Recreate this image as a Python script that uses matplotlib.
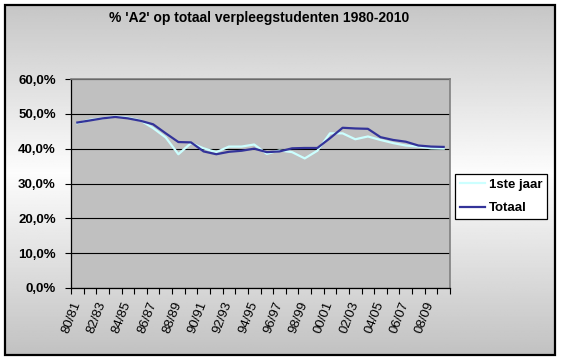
import numpy as np
import matplotlib
matplotlib.use("Agg")
import matplotlib.pyplot as plt
from matplotlib.patches import Rectangle
from matplotlib.ticker import FuncFormatter

# Data
years = ["80/81", "81/82", "82/83", "83/84", "84/85", "85/86", "86/87", "87/88",
         "88/89", "89/90", "90/91", "91/92", "92/93", "93/94", "94/95", "95/96",
         "96/97", "97/98", "98/99", "99/00", "00/01", "01/02", "02/03", "03/04",
         "04/05", "05/06", "06/07", "07/08", "08/09", "09/10"]
eerste_jaar = [47.3, 48.3, 48.7, 49.2, 48.9, 48.1, 45.9, 43.2, 38.4, 41.6,
               40.1, 39.0, 40.6, 40.6, 41.2, 38.5, 39.5, 39.0, 37.2, 39.4,
               44.4, 44.4, 42.7, 43.5, 42.5, 41.6, 40.9, 40.6, 40.1, 40.0]
totaal = [47.5, 48.1, 48.7, 49.1, 48.7, 48.0, 47.0, 44.4, 41.9, 41.8,
          39.2, 38.4, 39.1, 39.4, 40.0, 39.0, 39.2, 40.1, 40.2, 40.2,
          43.0, 46.0, 45.8, 45.7, 43.3, 42.5, 42.0, 40.9, 40.6, 40.5]

W, H = 561, 361
fig = plt.figure(figsize=(W / 100, H / 100), dpi=100)
fig.patch.set_facecolor("white")

# Background: vertical grey-white-grey gradient inside a black border
bg = fig.add_axes([0, 0, 1, 1], zorder=-10)
bg.set_xlim(0, W)
bg.set_ylim(H, 0)
bg.axis("off")
yy = np.linspace(0, 1, 200)
shade = 0.99 - 0.23 * np.abs(yy - 0.48) / 0.52
grad = np.repeat(shade[:, None], 2, axis=1)
bg.imshow(grad, cmap="gray", vmin=0, vmax=1, extent=[5, 555, 355, 5], aspect="auto")
bg.add_patch(Rectangle((5, 5), 550, 350, fill=False, edgecolor="black", linewidth=1.6))

ax = fig.add_axes([71 / W, 1 - 288 / H, (450 - 71) / W, (288 - 79) / H])
ax.set_facecolor("#C0C0C0")

x = np.arange(len(years))
ax.plot(x, eerste_jaar, color="#CCFFFF", linewidth=1.6, label="1ste jaar")
ax.plot(x, totaal, color="#333399", linewidth=1.6, label="Totaal")

ax.set_xlim(-0.5, len(years) - 0.5)
ax.set_ylim(0, 60)
ax.set_yticks(np.arange(0, 61, 10))
ax.yaxis.set_major_formatter(FuncFormatter(lambda v, p: f"{v:.1f}%".replace(".", ",")))
ax.grid(axis="y", color="black", linewidth=0.8)
ax.set_axisbelow(True)

# tick marks between categories, labels on every other category
ax.set_xticks(np.arange(-0.5, len(years), 1))
ax.set_xticklabels([])
ax.set_xticks(x[::2], minor=True)
ax.set_xticklabels(years[::2], minor=True, rotation=69, rotation_mode="anchor",
                   ha="right", va="center", fontsize=9.5, family="Liberation Sans")
ax.tick_params(axis="x", which="major", length=4, width=0.8, direction="out")
ax.tick_params(axis="x", which="minor", length=0, pad=10)
ax.tick_params(axis="y", length=4, width=0.8, direction="out", pad=7)
for lab in ax.get_yticklabels():
    lab.set_fontfamily("Liberation Sans")
    lab.set_fontweight("bold")
    lab.set_fontsize(9.5)

for side in ["top", "right"]:
    ax.spines[side].set_color("#808080")
    ax.spines[side].set_linewidth(1.2)
for side in ["left", "bottom"]:
    ax.spines[side].set_color("black")
    ax.spines[side].set_linewidth(0.9)

fig.text(259 / W, 1 - 18 / H, "% 'A2' op totaal verpleegstudenten 1980-2010",
         ha="center", va="center", fontsize=10, fontweight="bold", family="Liberation Sans")

leg = fig.legend(loc="upper left", bbox_to_anchor=(455 / W, 1 - 174 / H),
                 prop={"family": "Liberation Sans", "weight": "bold", "size": 9.5},
                 frameon=True, fancybox=False, edgecolor="black", facecolor="white",
                 framealpha=1, handlelength=1.9, handletextpad=0.3, borderpad=0.35,
                 labelspacing=0.85, borderaxespad=0)
leg.get_frame().set_linewidth(0.9)

fig.savefig("out.png", dpi=100)
